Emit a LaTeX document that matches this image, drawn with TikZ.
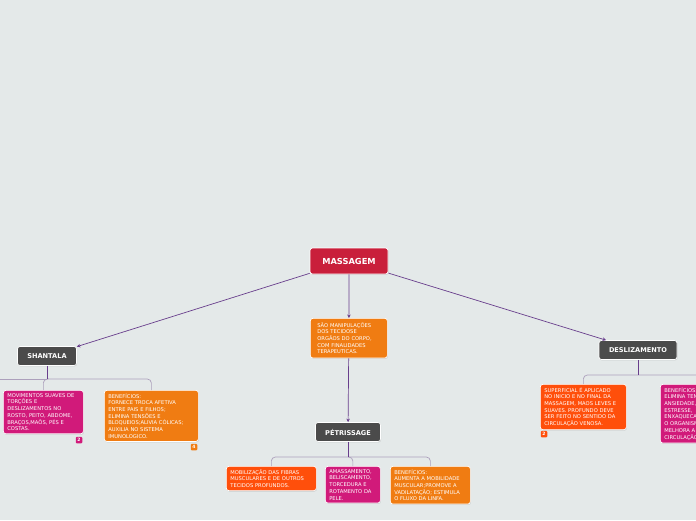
\documentclass[tikz,border=0pt]{standalone}
\usepackage{fontspec}
\setmainfont{DejaVu Sans}
\usepackage{xcolor}
\usepackage{tikz}
\usetikzlibrary{arrows.meta, shadows}
\definecolor{canvas}{RGB}{228,233,233}
\definecolor{crimson}{RGB}{201,31,59}
\definecolor{amber}{RGB}{240,124,18}
\definecolor{flame}{RGB}{255,79,11}
\definecolor{berry}{RGB}{209,26,122}
\definecolor{slate}{RGB}{75,75,75}
\definecolor{plum}{RGB}{104,62,140}
\definecolor{lilac}{RGB}{172,160,188}
\tikzset{
  box/.style    ={rectangle, rounded corners=2.5pt, draw=white, line width=0.7pt,
                  text=white, inner sep=0pt,
                  drop shadow={shadow xshift=0.6pt, shadow yshift=-0.9pt, opacity=0.25}},
  central/.style={box, fill=crimson, font=\bfseries\fontsize{8.3}{9}\selectfont},
  topic/.style  ={box, fill=slate, font=\bfseries\fontsize{6.6}{8}\selectfont},
  note/.style   ={box, anchor=north west, align=left, inner xsep=4pt, inner ysep=3pt,
                  font=\fontsize{5.2}{6.7}\selectfont},
  badge/.style  ={rectangle, rounded corners=1pt, text=white, inner sep=0pt,
                  minimum size=6.5pt, font=\bfseries\fontsize{4.5}{5}\selectfont},
  ar/.style     ={-{Stealth[length=3.5pt, width=3.5pt]}, draw=plum, line width=0.7pt},
  stem/.style   ={draw=plum, line width=0.7pt},
  twig/.style   ={draw=lilac, line width=0.7pt, rounded corners=4pt},
}
\begin{document}
\begin{tikzpicture}[x=1pt, y=-1pt]
\fill[canvas] (0,0) rectangle (696,520);
\clip (0,0) rectangle (696,520);
\node[central, minimum width=78pt, minimum height=26pt] (massagem) at (349,261) {MASSAGEM};
\node[note, fill=amber, text width=63pt, inner xsep=7pt, inner ysep=4pt] (desc) at (310,318)
  {SÃO MANIPULAÇÕES\\DOS TECIDOSE\\ORGÃOS DO CORPO,\\COM FINALIDADES\\TERAPEUTICAS.};
\node[topic, minimum width=59pt, minimum height=19pt] (shan) at (47,356) {SHANTALA};
\node[topic, minimum width=78pt, minimum height=19pt] (desl) at (638,350) {DESLIZAMENTO};
\node[topic, minimum width=65pt, minimum height=19pt] (pet) at (348,432) {PÉTRISSAGE};

\node[note, fill=berry, text width=72pt] (shanA) at (3,390)
  {MOVIMENTOS SUAVES DE\\TORÇÕES E\\DESLIZAMENTOS NO\\ROSTO, PEITO, ABDOME,\\BRAÇOS,MAÕS, PÉS E\\COSTAS.};
\node[note, fill=amber, text width=86pt] (shanB) at (104,390)
  {BENEFÍCIOS:\\FORNECE TROCA AFETIVA\\ENTRE PAIS E FILHOS;\\ELIMINA TENSÕES E\\BLOQUEIOS;ALIVIA CÓLICAS;\\AUXILIA NO SISTEMA\\IMUNOLOGICO.};
\node[note, fill=flame, text width=82pt] (petA) at (226,466)
  {MOBILIZAÇÃO DAS FIBRAS\\MUSCULARES E DE OUTROS\\TECIDOS PROFUNDOS.};
\node[note, fill=berry, text width=47pt] (petB) at (325,466)
  {AMASSAMENTO,\\BELISCAMENTO,\\TORCEDURA E\\ROTAMENTO DA\\PELE.};
\node[note, fill=amber, text width=72pt] (petC) at (390,466)
  {BENEFÍCIOS:\\AUMENTA A MOBILIDADE\\MUSCULAR;PROMOVE A\\VADILATAÇÃO; ESTIMULA\\O FLUXO DA LINFA.};
\node[note, fill=flame, text width=78pt] (deslA) at (540,384)
  {SUPERFICIAL É APLICADO\\NO INICIO E NO FINAL DA\\MASSAGEM, MAOS LEVES E\\SUAVES. PROFUNDO DEVE\\SER FEITO NO SENTIDO DA\\CIRCULAÇÃO VENOSA.};
\node[note, fill=berry, text width=82pt] (deslB) at (660,384)
  {BENEFÍCIOS:\\ELIMINA TENSÕES,\\ANSIEDADE,\\ESTRESSE,\\ENXAQUECA;\\O ORGANISMO;\\MELHORA A\\CIRCULAÇÃO.};

\node[badge, fill=berry] (shanAn) at (79,440) {2};
\node[badge, fill=amber] (shanBn) at (194,447) {4};
\node[badge, fill=flame] (deslAn) at (544,434) {2};

\draw[ar] (massagem) -- (shan);
\draw[ar] (massagem) -- (desl);
\draw[ar] (massagem) -- (desc);
\draw[ar] (desc) -- (pet);

\coordinate (shanJ) at (47,379);
\coordinate (shanL) at (0,379);
\coordinate (petJ) at (348,457);
\coordinate (deslJ) at (638,375);
\draw[twig] (shanJ) -| (shanA);
\draw[twig] (shanJ) -| (shanB);
\draw[twig] (shanJ) -- (shanL);
\draw[twig] (petJ) -| (petA);
\draw[twig] (petJ) -| (petB);
\draw[twig] (petJ) -| (petC);
\draw[twig] (deslJ) -| (deslA);
\draw[twig] (deslJ) -| (deslB);
\draw[stem] (shan) -- (shanJ);
\draw[stem] (pet) -- (petJ);
\draw[stem] (desl) -- (deslJ);
\end{tikzpicture}
\end{document}
